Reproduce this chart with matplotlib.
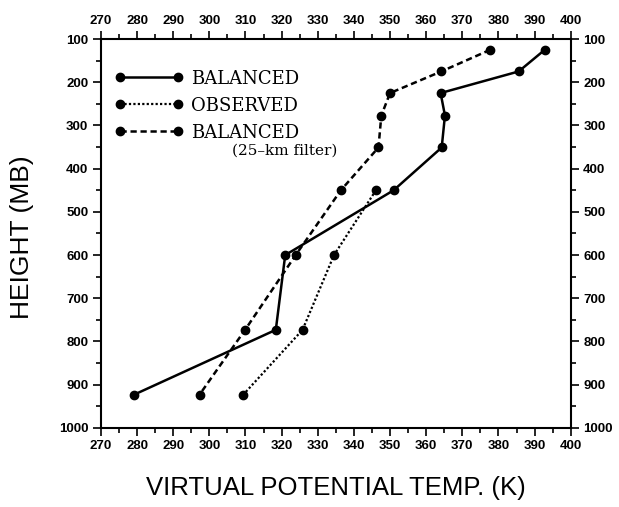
import numpy as np
import matplotlib.pyplot as plt
from matplotlib.lines import Line2D

# pressure levels (mb) and virtual potential temperature (K)
p_bal = [125, 175, 225, 277, 351, 450, 600, 773, 923]
t_bal = [392.8, 385.6, 364.0, 365.2, 364.3, 351.0, 321.0, 318.4, 279.2]

p_obs = [450, 600, 773, 923]
t_obs = [346.1, 334.5, 325.8, 309.4]

p_filt = [125, 175, 225, 277, 351, 450, 600, 773, 923]
t_filt = [377.7, 364.2, 350.0, 347.6, 346.8, 336.4, 323.9, 309.9, 297.3]

xticks = np.arange(270, 401, 10)
yticks = np.arange(100, 1001, 100)

fig = plt.figure(figsize=(6.19, 5.07), dpi=100)
ax = fig.add_axes([0.163, 0.156, 0.759, 0.767])

ms = 6
ax.plot(t_bal, p_bal, color='black', lw=1.8, ls='-', marker='o', ms=ms)
ax.plot(t_obs, p_obs, color='black', lw=1.6, ls=(0, (1, 1)), marker='o', ms=ms)
ax.plot(t_filt, p_filt, color='black', lw=1.8, ls=(0, (2.5, 1.5)), marker='o', ms=ms)

ax.set_xlim(270, 400)
ax.set_ylim(1000, 100)
ax.set_xticks(xticks)
ax.set_yticks(yticks)
ax.set_xticks(np.arange(275, 400, 10), minor=True)
ax.set_yticks(np.arange(150, 1000, 100), minor=True)

ax.tick_params(axis='both', which='both', direction='out', top=True, right=True,
               labeltop=True, labelright=True, width=1.2, labelsize=9.5)
ax.tick_params(axis='both', which='major', length=6, pad=3)
ax.tick_params(axis='both', which='minor', length=3.5)
for lab in ax.get_xticklabels() + ax.get_yticklabels():
    lab.set_family('Liberation Sans')
    lab.set_fontweight('bold')
for spine in ax.spines.values():
    spine.set_linewidth(1.5)

ax.set_xlabel('VIRTUAL POTENTIAL TEMP. (K)', fontsize=18.5, family='Liberation Sans')
ax.set_ylabel('HEIGHT (MB)', fontsize=19, family='Liberation Sans')
ax.xaxis.set_label_coords(0.5, -0.123)
ax.yaxis.set_label_coords(-0.143, 0.49)

handles = [
    Line2D([], [], color='black', lw=1.8, ls='-', marker='o', ms=ms),
    Line2D([], [], color='black', lw=1.6, ls=(0, (1, 1)), marker='o', ms=ms),
    Line2D([], [], color='black', lw=1.8, ls=(0, (2.5, 1.5)), marker='o', ms=ms),
]
ax.legend(handles, ['BALANCED', 'OBSERVED', 'BALANCED'], loc='upper left',
          bbox_to_anchor=(-0.005, 0.963), frameon=False, numpoints=2,
          handlelength=3.8, handletextpad=0.4, labelspacing=0.5,
          prop=dict(family='DejaVu Serif', size=13))
ax.text(0.279, 0.712, '(25–km filter)', transform=ax.transAxes,
        family='DejaVu Serif', fontsize=11, va='center')

plt.savefig('out.png', dpi=100)
